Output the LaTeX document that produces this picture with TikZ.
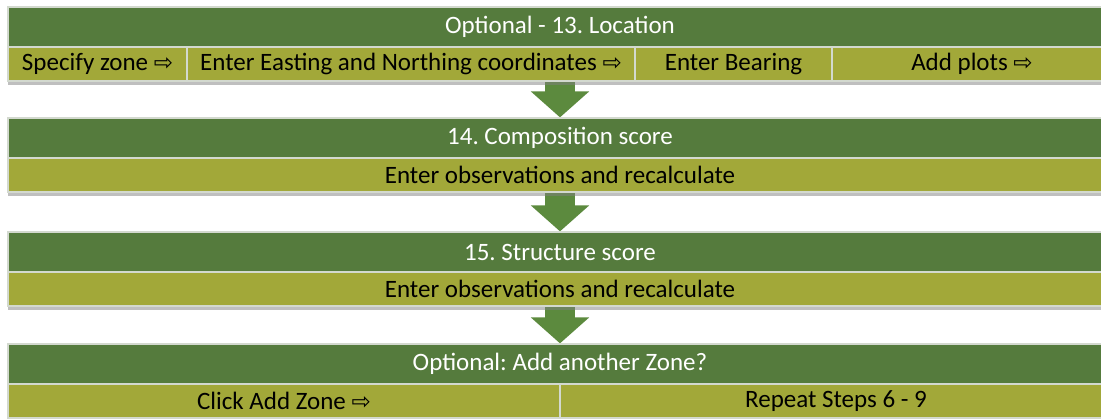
\documentclass[tikz,border=0pt]{standalone}
\usepackage{fontspec}
\setmainfont{Carlito}
\newfontfamily\symfont{DejaVu Sans}
\usepackage{tikz}
\usetikzlibrary{arrows.meta,shadows,backgrounds,positioning}

\definecolor{hdrgreen}{HTML}{557B3D}
\definecolor{cellolive}{HTML}{A2A839}
\definecolor{edgegrey}{HTML}{D3D9CF}
\definecolor{arrowgreen}{HTML}{5C8A3E}

\newcommand{\bandfont}{\fontsize{25}{30}\selectfont\frenchspacing}
\newcommand{\nextarrow}{{\symfont\fontsize{23}{26}\selectfont ⇨}}

\begin{document}
\begin{tikzpicture}[x=1pt,y=-1pt]
			\tikzstyle{every node}+=[inner sep=0pt]
			\tikzstyle{band}=[rectangle, draw=edgegrey, line width=1.2pt, font=\bandfont, drop shadow={opacity=0.5, shadow xshift=0pt, shadow yshift=-4pt}]
			\tikzstyle{header}=[band, fill=hdrgreen, text=white, minimum width=1104pt, minimum height=40pt]
			\tikzstyle{cell}=[band, fill=cellolive, text=black, minimum height=34pt]
			\tikzstyle{downarrow}=[draw=arrowgreen, line width=30pt, -{Triangle[width=57pt,length=26pt]}]
			\useasboundingbox (0,0) rectangle (1101,419);
			\clip (0,0) rectangle (1101,419);
			\node [header] (h1) at (560,27) {Optional - 13. Location};
			\node [cell, minimum width=179pt] (c11) at (97.5,64) {Specify zone \nextarrow};
			\node [cell, minimum width=448pt] (c12) at (411,64) {Enter Easting and Northing coordinates \nextarrow};
			\node [cell, minimum width=197pt] (c13) at (733.5,64) {Enter Bearing};
			\node [cell, minimum width=280pt] (c14) at (972,64) {Add plots \nextarrow};
			\node [header] (h2) at (560,138) {14. Composition score};
			\node [cell, minimum width=1104pt] (c2) at (560,175) {Enter observations and recalculate};
			\node [header] (h3) at (560,252) {15. Structure score};
			\node [cell, minimum width=1104pt] (c3) at (560,289) {Enter observations and recalculate};
			\node [header] (h4) at (560,364) {Optional: Add another Zone?};
			\node [cell, minimum width=552pt] (c41) at (284,401) {Click Add Zone \nextarrow};
			\node [cell, minimum width=552pt] (c42) at (836,401) {Repeat Steps 6 - 9};
			\begin{pgfonlayer}{background}
			\draw [downarrow] (h2.north |- c12.south) -- (h2.north);
			\draw [downarrow] (c2.south) -- (h3.north);
			\draw [downarrow] (c3.south) -- (h4.north);
			\end{pgfonlayer}
\end{tikzpicture}
\end{document}
